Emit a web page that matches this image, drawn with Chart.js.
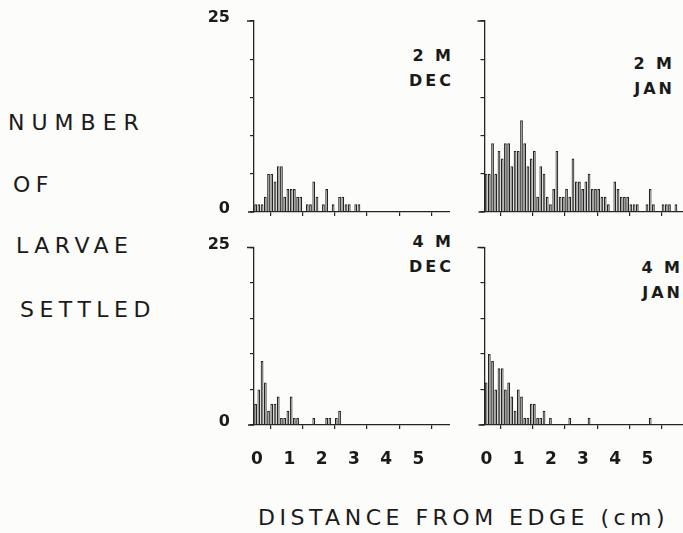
<!DOCTYPE html>
<html lang="en">
<head>
<meta charset="UTF-8">
<title>Number of larvae settled vs distance from edge</title>
<style>
  body { margin: 0; background: #fcfcfa; }
  #wrap { position: relative; width: 683px; height: 533px; overflow: hidden;
          font-family: 'DejaVu Sans', sans-serif; color: #1a1a1a; }
  .panel { position: absolute; }
  .lbl { position: absolute; font-size: 22px; line-height: 22px; letter-spacing: 5.5px; white-space: nowrap; }
  .tag { position: absolute; font-size: 16px; line-height: 25px; font-weight: bold;
         letter-spacing: 3px; text-align: right; white-space: nowrap; }
</style>
</head>
<body>
<div id="wrap">
  <div class="lbl" style="left:8px;top:112px;letter-spacing:7px">NUMBER</div>
  <div class="lbl" style="left:13px;top:174px">OF</div>
  <div class="lbl" style="left:16px;top:235px">LARVAE</div>
  <div class="lbl" style="left:20px;top:299px">SETTLED</div>

  <div class="tag" style="right:229px;top:43px">2 M<br>DEC</div>
  <div class="tag" style="right:8px;top:51px">2 M<br>JAN</div>
  <div class="tag" style="right:229px;top:229px">4 M<br>DEC</div>
  <div class="tag" style="right:0px;top:255px">4 M<br>JAN</div>

  <div class="panel" style="left:190px;top:10px"><canvas id="dec2" width="260" height="215"></canvas></div>
  <div class="panel" style="left:420px;top:10px"><canvas id="jan2" width="263" height="215"></canvas></div>
  <div class="panel" style="left:190px;top:235px"><canvas id="dec4" width="260" height="245"></canvas></div>
  <div class="panel" style="left:420px;top:235px"><canvas id="jan4" width="263" height="245"></canvas></div>

  <div class="lbl" style="left:258px;top:507px;letter-spacing:4.5px">DISTANCE FROM EDGE (cm)</div>
</div>

<script src="https://cdn.jsdelivr.net/npm/chart.js"></script>
<script>
// counts per 0.1 cm bin, starting at the edge
const binWidth = 0.1;
const dec2m = [1,1,1,2,5,5,4,6,6,2,3,3,3,2,2,0,1,1,4,2,0,1,3,0,1,0,2,2,1,1,0,1,1];
const jan2m = [5,5,9,5,8,7,9,9,6,8,8,12,9,6,7,8,2,6,5,2,1,3,8,2,2,3,2,7,4,4,3,4,5,3,3,3,2,2,1,0,4,3,2,2,2,1,1,1,0,0,1,3,1,0,0,1,1,1,0,1];
const dec4m = [3,5,9,6,2,3,3,4,1,1,2,4,1,1,0,0,0,0,1,0,0,0,1,1,0,1,2];
const jan4m = [6,10,9,5,8,8,5,6,4,2,5,4,1,1,3,3,1,1,2,0,1,0,0,0,0,0,1,0,0,0,0,0,1,0,0,0,0,0,0,0,0,0,0,0,0,0,0,0,0,0,0,1];

const xTicks = [0, 1, 2, 3, 4, 5, 6];
const xLabels = [0, 1, 2, 3, 4, 5];
const yTicks = [0, 5, 10, 15, 20, 25];
const yLabels = [0, 25];

const ink = '#242424';

// short overhangs of the axes past the corner and at the top tick
const axisCaps = {
  id: 'axisCaps',
  afterDraw(chart) {
    const { ctx, chartArea: a } = chart;
    ctx.save();
    ctx.strokeStyle = ink;
    ctx.lineWidth = 1.3;
    ctx.beginPath();
    ctx.moveTo(a.left - 7, a.top);
    ctx.lineTo(a.left, a.top);
    ctx.moveTo(a.left - 6, a.bottom);
    ctx.lineTo(a.left, a.bottom);
    ctx.stroke();
    ctx.restore();
  }
};

function makePanel(id, counts, o) {
  const ctx = document.getElementById(id).getContext('2d');
  return new Chart(ctx, {
    type: 'bar',
    data: {
      datasets: [{
        data: counts.map((c, i) => ({ x: (i + 0.5) * binWidth, y: c })),
        backgroundColor: '#fdfdfb',
        borderColor: ink,
        borderWidth: 1.2,
        borderSkipped: 'bottom',
        barPercentage: 0.85,
        categoryPercentage: 1
      }]
    },
    options: {
      responsive: false,
      animation: false,
      layout: { padding: { left: 0, top: o.padTop, right: 0, bottom: 0 } },
      plugins: { legend: { display: false }, tooltip: { enabled: false } },
      scales: {
        x: {
          type: 'linear',
          min: 0,
          max: o.xMax,
          offset: false,
          afterBuildTicks: s => { s.ticks = xTicks.map(v => ({ value: v })); },
          afterFit: s => { s.height = o.axisH; s.paddingLeft = 0; s.paddingRight = 0; },
          grid: { drawOnChartArea: false, drawTicks: true, tickLength: 4, color: ink, lineWidth: 1.2 },
          border: { color: ink, width: 1.3 },
          ticks: {
            display: o.showX,
            padding: 20,
            labelOffset: o.xShift,
            maxRotation: 0,
            color: '#1a1a1a',
            font: { family: 'DejaVu Sans', size: 17, weight: 'bold' },
            callback: v => xLabels.includes(v) ? String(v) : ''
          }
        },
        y: {
          position: 'left',
          min: 0,
          max: 25,
          afterBuildTicks: s => { s.ticks = yTicks.map(v => ({ value: v })); },
          afterFit: s => { s.width = o.axisW; s.paddingTop = 0; s.paddingBottom = 0; },
          grid: { drawOnChartArea: false, drawTicks: true, tickLength: 4, color: ink, lineWidth: 1.2 },
          border: { color: ink, width: 1.3 },
          ticks: {
            display: o.showY,
            padding: 20,
            labelOffset: -3,
            color: '#1a1a1a',
            font: { family: 'DejaVu Sans', size: 16, weight: 'bold' },
            callback: v => yLabels.includes(v) ? String(v) : ''
          }
        }
      }
    },
    plugins: [axisCaps]
  });
}

makePanel('dec2', dec2m, { axisW: 64, padTop: 11, axisH: 13, xMax: 6.07, xShift: 3, showX: false, showY: true });
makePanel('jan2', jan2m, { axisW: 64.5, padTop: 11, axisH: 13, xMax: 6.17, xShift: 2, showX: false, showY: false });
makePanel('dec4', dec4m, { axisW: 64, padTop: 12.5, axisH: 55, xMax: 6.07, xShift: 3, showX: true, showY: true });
makePanel('jan4', jan4m, { axisW: 64.5, padTop: 12.5, axisH: 55, xMax: 6.17, xShift: 2, showX: true, showY: false });
</script>
</body>
</html>
